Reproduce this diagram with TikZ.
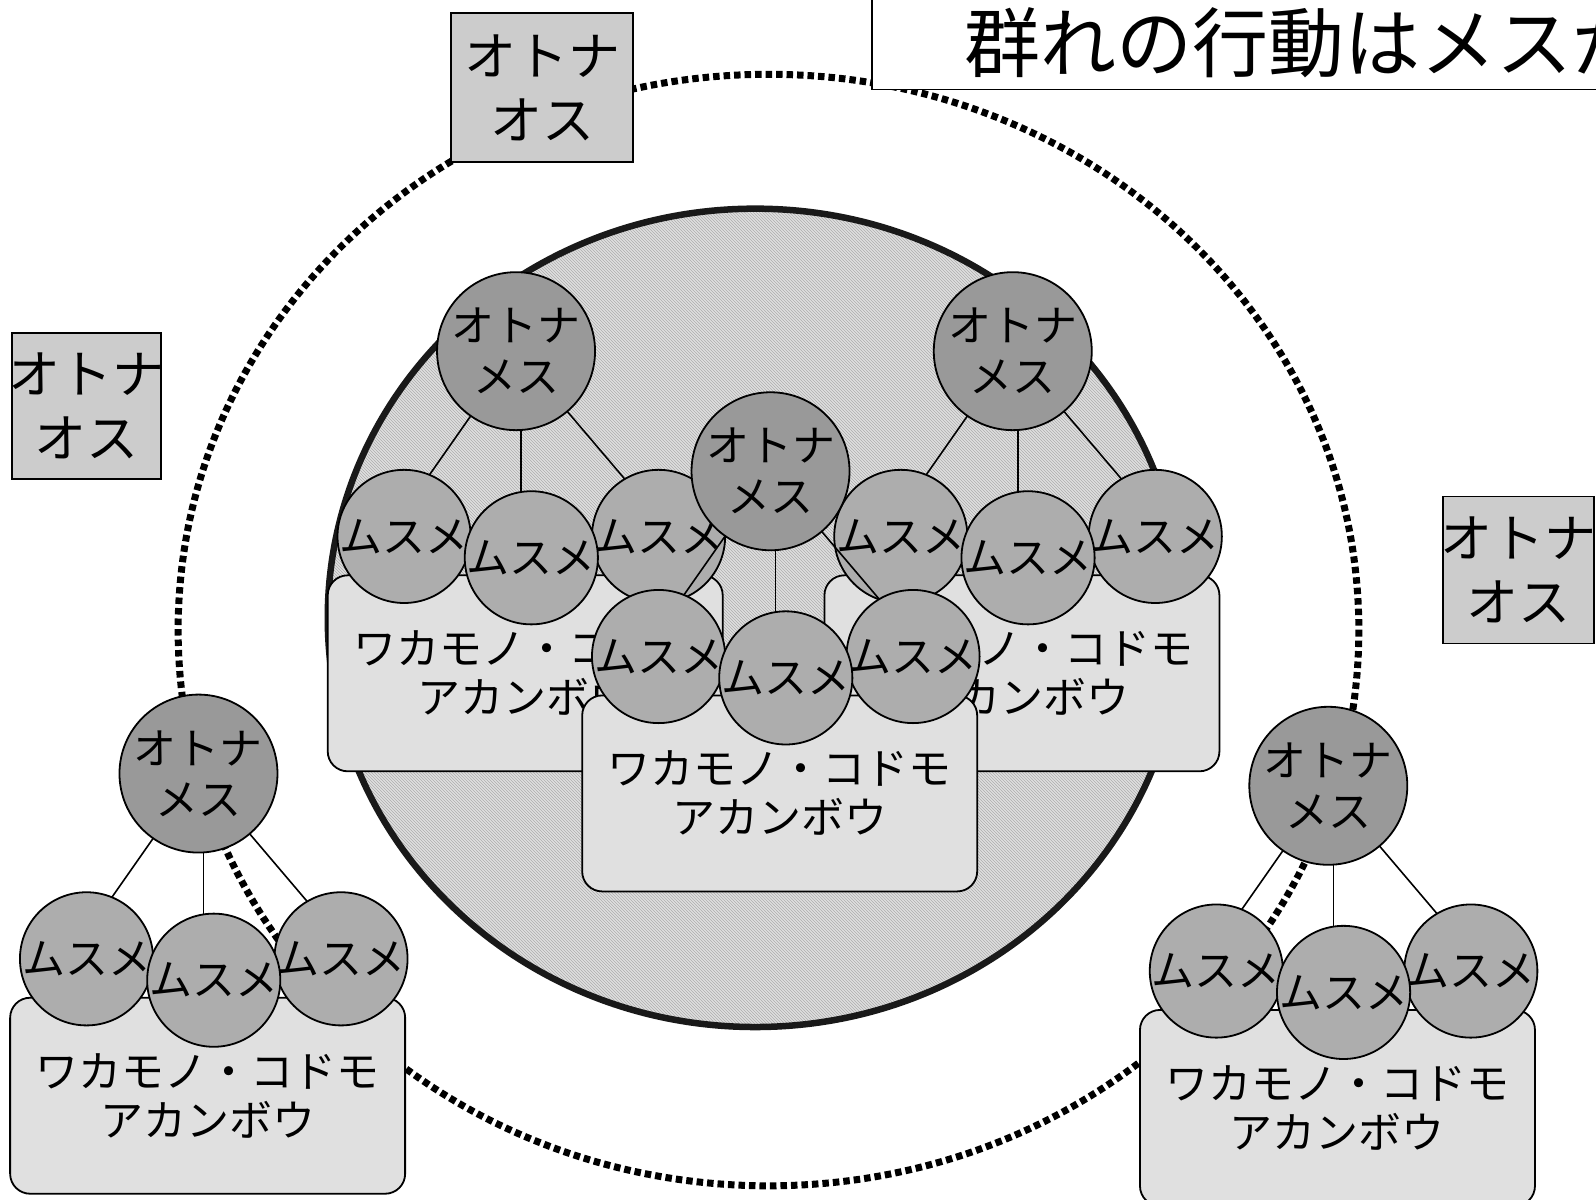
\documentclass[tikz,border=0pt]{standalone}
\usepackage{fontspec}
\newfontfamily\jp{Noto Sans CJK JP}
\usetikzlibrary{patterns}
\definecolor{adultc}{gray}{0.60}
\definecolor{daughc}{gray}{0.68}
\definecolor{boxc}{gray}{0.88}
\definecolor{sqc}{gray}{0.80}
\definecolor{ringc}{gray}{0.88}
\tikzset{
  adult/.style={circle, draw, line width=1.8pt, fill=adultc, minimum size=158pt, inner sep=0pt, align=center, font=\jp\fontsize{43pt}{51pt}\selectfont},
  daughter/.style={circle, draw, line width=1.8pt, fill=daughc, minimum size=126pt, inner sep=0pt, font=\jp\fontsize{43pt}{49pt}\selectfont},
  groupbox/.style={rectangle, rounded corners=20pt, draw, line width=1.8pt, fill=boxc, minimum width=395pt, minimum height=196pt, inner sep=0pt, align=center, font=\jp\fontsize{43pt}{49pt}\selectfont},
  malebox/.style={rectangle, draw, line width=1.8pt, fill=sqc, inner sep=0pt, align=center, font=\jp\fontsize{52pt}{64pt}\selectfont},
  link/.style={line width=1.6pt},
  ringline/.style={line width=7pt, dash pattern=on 6.5pt off 4pt},
}
\newcommand\famgroup[3]{% #1 name, #2 cx, #3 y0
  \node[groupbox] (#1box) at (#2+9,#3+316.5) {ワカモノ・コドモ\\アカンボウ};
  \coordinate (#1ac) at (#2,#3);
  \coordinate (#1tl) at (#2-126,#3+180);
  \coordinate (#1tmt) at (#2+5,#3);
  \coordinate (#1tm) at (#2+5,#3+150);
  \coordinate (#1tr) at (#2+153,#3+180);
  \draw[link] (#1ac) -- (#1tl);
  \draw[link] (#1tmt) -- (#1tm);
  \draw[link] (#1ac) -- (#1tr);
  \node[daughter] (#1d1) at (#2-110,#3+182) {ムスメ};
  \node[daughter] (#1d3) at (#2+140,#3+182) {ムスメ};
  \node[daughter] (#1d2) at (#2+15,#3+203) {ムスメ};
  \node[adult] (#1a) at (#2,#3) {オトナ\\メス};
}
\begin{document}
\begin{tikzpicture}[x=1.01786pt, y=-1.01786pt]
\useasboundingbox (0,0) rectangle (1568,1178);
\clip (0,0) rectangle (1568,1178);
\fill[white] (0,0) rectangle (1568,1178);
% outer dotted ring
\draw[ringline] (755,619) ellipse [x radius=580, y radius=546];
% inner group circle
\fill[ringc] (742,607) ellipse [x radius=420, y radius=402];
\fill[pattern=north west lines, pattern color=black!32] (742,607) ellipse [x radius=420, y radius=402];
\draw[line width=6.5pt, black!90] (742,607) ellipse [x radius=420, y radius=402];
% title
\draw[line width=1.8pt, fill=white] (857,-10) rectangle (1600,88);
\node[font=\jp\fontsize{76pt}{80pt}\selectfont, anchor=base west, inner sep=0pt] (title) at (947,70) {群れの行動はメスが};
% adult males
\node[malebox, minimum width=182pt, minimum height=149pt] (m1) at (532.5,86) {\makebox[0pt]{オトナ}\\\makebox[0pt]{オス}};
\node[malebox, minimum width=149pt, minimum height=146pt] (m2) at (85,398.5) {\makebox[0pt]{オトナ}\\\makebox[0pt]{オス}};
\node[malebox, minimum width=151pt, minimum height=147pt] (m3) at (1492,560) {\makebox[0pt]{オトナ}\\\makebox[0pt]{オス}};
% family groups
\famgroup{A}{507}{345}
\famgroup{B}{995}{345}
\famgroup{C}{757}{463}
\famgroup{D}{195}{760}
\famgroup{E}{1305}{772}
\end{tikzpicture}
\end{document}
